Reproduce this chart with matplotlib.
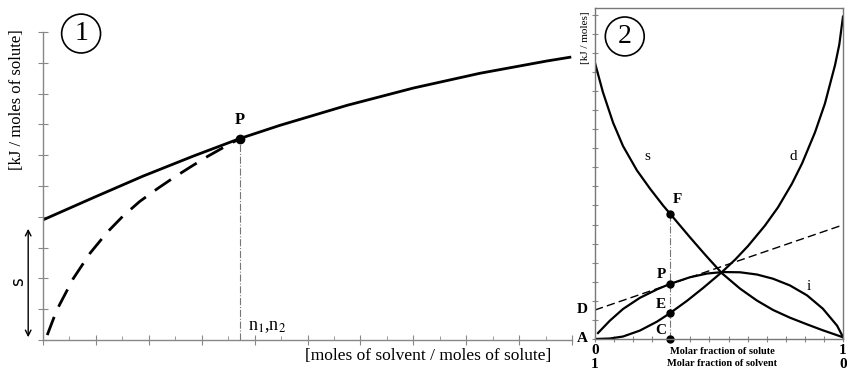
import matplotlib.pyplot as plt
from matplotlib.ticker import MultipleLocator
import numpy as np

plt.rcParams['font.family'] = ['Liberation Serif', 'DejaVu Serif']
plt.rcParams['mathtext.fontset'] = 'stix'

# panel 1: integral heat of solution vs dilution
tangent_x = [0.0, 0.95, 1.89, 2.84, 3.72, 4.48, 5.75, 7.0, 8.26, 9.53, 9.96]
tangent_y = [3.90, 4.62, 5.32, 5.97, 6.54, 6.97, 7.62, 8.18, 8.66, 9.06, 9.18]
dashed_x = [0.08, 0.26, 0.57, 0.89, 1.21, 1.51, 1.83, 2.16, 2.46, 2.78, 3.10, 3.40, 3.72]
dashed_y = [0.16, 0.97, 1.99, 2.82, 3.49, 4.02, 4.50, 4.91, 5.26, 5.61, 5.95, 6.24, 6.54]
p1 = (3.72, 6.54)

# panel 2: molar quantities vs molar fraction
s_x = [0.0, 0.032, 0.073, 0.113, 0.169, 0.222, 0.274, 0.302, 0.383, 0.423, 0.452, 0.512,
       0.585, 0.653, 0.718, 0.786, 0.855, 0.919, 1.0]
s_y = [1.113, 0.995, 0.872, 0.778, 0.680, 0.606, 0.539, 0.506, 0.410, 0.364, 0.331, 0.265,
       0.203, 0.155, 0.117, 0.086, 0.059, 0.035, 0.007]
d_x = [0.0, 0.06, 0.113, 0.181, 0.25, 0.302, 0.371, 0.435, 0.512, 0.565, 0.617, 0.685,
       0.738, 0.794, 0.835, 0.887, 0.927, 0.968, 0.985, 1.0]
d_y = [0.0, 0.002, 0.010, 0.034, 0.070, 0.104, 0.154, 0.205, 0.270, 0.320, 0.375, 0.457,
       0.531, 0.626, 0.708, 0.833, 0.949, 1.105, 1.187, 1.30]
i_x = [0.012, 0.06, 0.113, 0.181, 0.25, 0.302, 0.383, 0.452, 0.516, 0.585, 0.653, 0.718,
       0.786, 0.855, 0.919, 0.976, 1.0]
i_y = [0.024, 0.074, 0.121, 0.166, 0.200, 0.222, 0.249, 0.264, 0.270, 0.269, 0.260, 0.243,
       0.216, 0.176, 0.122, 0.054, 0.008]
line_x = [0.0, 1.0]
line_y = [0.117, 0.46]
xc = 0.302
F_y, P_y, E_y = 0.506, 0.222, 0.104

fig = plt.figure(figsize=(8.47, 3.69), dpi=100)

# ---------- panel 1 ----------
ax = fig.add_axes([43 / 847, 1 - 340 / 369, 529 / 847, 308 / 369])
ax.set_xlim(0, 10)
ax.set_ylim(0, 10)
for side in ['top', 'right']:
    ax.spines[side].set_visible(False)
for side in ['left', 'bottom']:
    ax.spines[side].set_color('#888888')
    ax.spines[side].set_linewidth(1)
ax.xaxis.set_major_locator(MultipleLocator(1))
ax.xaxis.set_minor_locator(MultipleLocator(0.5))
ax.yaxis.set_major_locator(MultipleLocator(1))
ax.tick_params(which='major', direction='inout', length=7, color='#888888', labelbottom=False, labelleft=False)
ax.tick_params(which='minor', direction='in', length=3, color='#888888')

ax.plot(tangent_x, tangent_y, color='black', lw=2, solid_joinstyle='round')
ax.plot(dashed_x, dashed_y, color='black', lw=2, dashes=(7, 4), dash_joinstyle='round')
ax.plot([p1[0], p1[0]], [0, p1[1]], color='#777777', lw=0.8, ls='-.')
ax.plot(*p1, 'o', color='black', ms=6)
ax.text(p1[0], p1[1] + 0.35, 'P', fontsize=12, fontweight='bold', ha='center', va='bottom')
ax.text(p1[0] + 0.15, 0.15, 'n$_1$,n$_2$', fontsize=13, ha='left', va='bottom')

ax.text(0.72, 9.95, '1', fontsize=20, ha='center', va='center',
        bbox=dict(boxstyle='circle,pad=0.25', fc='white', ec='black', lw=1.2))

fig.text(17 / 847, 1 - 100 / 369, '[kJ / moles of solute]', rotation=90, fontsize=12,
         ha='center', va='center')
fig.text(428 / 847, 1 - 356 / 369, '[moles of solvent / moles of solute]', fontsize=12.5,
         ha='center', va='center')
ax.annotate('', xy=(-0.28, 0), xytext=(-0.28, 3.7),
            arrowprops=dict(arrowstyle='<->', color='black', lw=1), annotation_clip=False)
ax.text(-0.47, 1.9, 's', rotation=90, fontsize=12, family='DejaVu Sans',
        ha='center', va='center', clip_on=False)

# ---------- panel 2 ----------
ax2 = fig.add_axes([595 / 847, 1 - 339 / 369, 248 / 847, 331 / 369])
ax2.set_xlim(0, 1)
ax2.set_ylim(0, 331 / 248)
for side in ax2.spines:
    ax2.spines[side].set_color('#777777')
    ax2.spines[side].set_linewidth(1)
ax2.set_xticks(np.arange(0, 14) / 13)
ax2.set_yticks(np.arange(0, 18) / 13)
ax2.tick_params(direction='inout', length=5, color='#888888', labelbottom=False, labelleft=False)

ax2.plot(s_x, s_y, color='black', lw=1.6, solid_joinstyle='round')
ax2.plot(d_x, d_y, color='black', lw=1.6, solid_joinstyle='round')
ax2.plot(i_x, i_y, color='black', lw=1.6, solid_joinstyle='round')
ax2.plot(line_x, line_y, color='black', lw=1, dashes=(6, 3))
ax2.plot([xc, xc], [0, F_y], color='#777777', lw=0.8, ls='-.')
ax2.plot([xc] * 4, [F_y, P_y, E_y, 0], 'o', color='black', ms=5, clip_on=False)

bold = dict(fontsize=11, fontweight='bold')
ax2.text(xc + 0.01, F_y + 0.03, 'F', ha='left', va='bottom', **bold)
ax2.text(xc - 0.015, P_y + 0.01, 'P', ha='right', va='bottom', **bold)
ax2.text(xc - 0.015, E_y + 0.01, 'E', ha='right', va='bottom', **bold)
ax2.text(xc - 0.015, 0.01, 'C', ha='right', va='bottom', **bold)
ax2.text(-0.03, line_y[0], 'D', ha='right', va='center', clip_on=False, **bold)
ax2.text(-0.03, 0.0, 'A', ha='right', va='center', clip_on=False, **bold)
ax2.text(0.21, 0.735, 's', fontsize=11, ha='center', va='center')
ax2.text(0.80, 0.735, 'd', fontsize=11, ha='center', va='center')
ax2.text(0.86, 0.21, 'i', fontsize=11, ha='center', va='center')

ax2.text(0.12, 1.22, '2', fontsize=20, ha='center', va='center',
         bbox=dict(boxstyle='circle,pad=0.25', fc='white', ec='black', lw=1.2))

fig.text(585 / 847, 1 - 38 / 369, '[kJ / moles]', rotation=90, fontsize=8, ha='center', va='center')
lab = dict(fontsize=11, fontweight='bold', ha='center', va='center')
fig.text(595 / 847, 1 - 351 / 369, '0', **lab)
fig.text(595 / 847, 1 - 364 / 369, '1', **lab)
fig.text(843 / 847, 1 - 351 / 369, '1', **lab)
fig.text(843 / 847, 1 - 364 / 369, '0', **lab)
fig.text(722 / 847, 1 - 351 / 369, 'Molar fraction of solute', fontsize=7.5, fontweight='bold',
         ha='center', va='center')
fig.text(722 / 847, 1 - 364 / 369, 'Molar fraction of solvent', fontsize=7.5, fontweight='bold',
         ha='center', va='center')

fig.savefig('out.png', dpi=100)
